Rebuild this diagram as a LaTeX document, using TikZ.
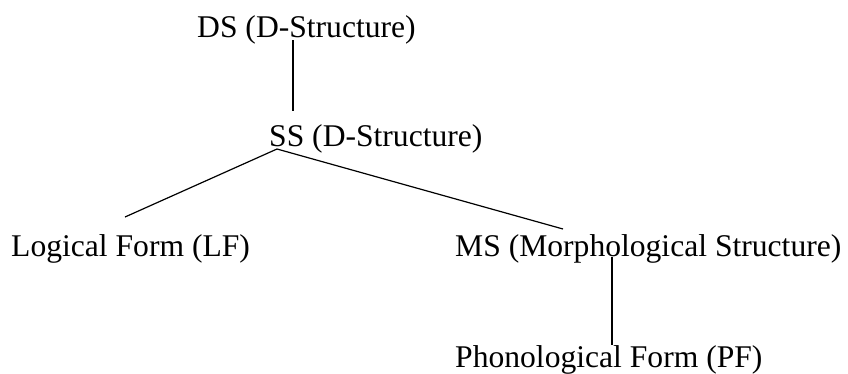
\documentclass[tikz,border=0pt]{standalone}
\usepackage{fontspec}
\setmainfont{Liberation Serif}
\usepackage{tikz}
\usetikzlibrary{positioning}

\tikzset{
  level/.style={inner sep=0pt, anchor=base west, font=\rmfamily\fontsize{31.6}{38}\selectfont},
  branch/.style={line width=1.2pt}
}

\begin{document}
\begin{tikzpicture}[x=1pt, y=-1pt]
\useasboundingbox (0,0) rectangle (848,373);
% levels
\node[level] (ds) at (197,37) {DS (D-Structure)};
\node[level] (ss) at (269,146) {SS (D-Structure)};
\node[level] (lf) at (11,256) {Logical Form (LF)};
\node[level] (ms) at (455,256) {MS (Morphological Structure)};
\node[level] (pf) at (455,367) {Phonological Form (PF)};
% where the branches meet the texts
\coordinate (dsfoot) at (293,40);
\coordinate (sshead) at (293,111);
\coordinate (ssfoot) at (277,149);
\coordinate (lfhead) at (125,217);
\coordinate (mshead) at (563,229);
\coordinate (msfoot) at (612,257);
\coordinate (pfhead) at (612,345);
\path[branch] (dsfoot) edge (sshead);
\path[branch] (ssfoot) edge (lfhead);
\path[branch] (ssfoot) edge (mshead);
\path[branch] (msfoot) edge (pfhead);
\end{tikzpicture}
\end{document}
